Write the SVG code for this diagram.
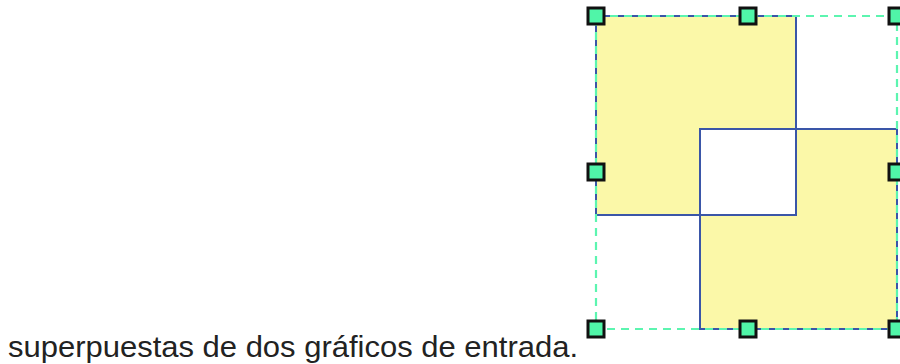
<svg xmlns="http://www.w3.org/2000/svg" width="900" height="364" viewBox="0 0 900 364">
<style>
.shape{fill:#fbf8a8;fill-rule:evenodd;stroke:none}
.edge{fill:none;stroke:#3a56a8;stroke-width:2}
.sel{fill:none;stroke:#5cf5b0;stroke-width:2.2;stroke-dasharray:8 6}
.h{fill:#50f5a8;stroke:#111;stroke-width:3}
.t{font-family:"Liberation Sans",Arial,sans-serif;font-size:29px;fill:#222}
</style>
<rect width="900" height="364" fill="#fff"/>
<g id="shapes">
<path class="shape" d="M596,16H796V215H596Z M700,129H897V329H700Z"/>
<rect class="edge" x="596" y="16" width="200" height="199"/>
<rect class="edge" x="700" y="129" width="197" height="200"/>
</g>
<g id="selection">
<rect class="sel" x="596" y="16" width="301" height="313"/>
<rect class="h" x="588" y="8" width="16" height="16"/>
<rect class="h" x="740" y="8" width="16" height="16"/>
<rect class="h" x="889" y="8" width="16" height="16"/>
<rect class="h" x="588" y="164" width="16" height="16"/>
<rect class="h" x="889" y="164" width="16" height="16"/>
<rect class="h" x="588" y="321" width="16" height="16"/>
<rect class="h" x="740" y="321" width="16" height="16"/>
<rect class="h" x="889" y="321" width="16" height="16"/>
</g>
<text class="t" x="8" y="357" textLength="570" lengthAdjust="spacingAndGlyphs">superpuestas de dos gráficos de entrada.</text>
</svg>
